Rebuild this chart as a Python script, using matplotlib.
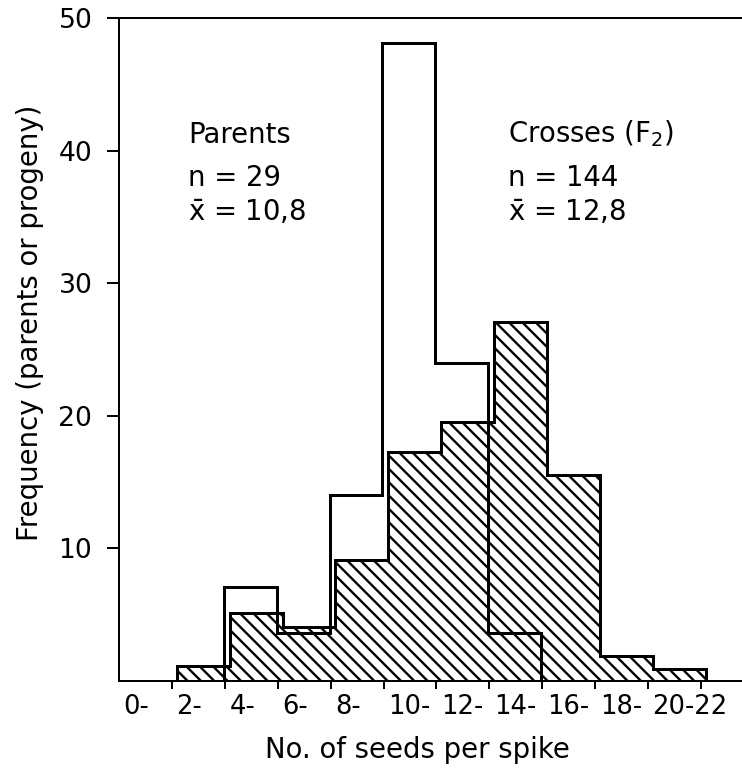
import numpy as np
import matplotlib.pyplot as plt

plt.rcParams['font.family'] = ['DejaVu Sans']
plt.rcParams['mathtext.fontset'] = 'dejavusans'
plt.rcParams['hatch.linewidth'] = 1.4

# percentage frequencies per class of seeds per spike
parent_edges = [4, 6, 8, 10, 12, 14, 16]
parent_freq = [7.1, 3.6, 14.0, 48.1, 24.0, 3.6]

cross_edges = [2, 4, 6, 8, 10, 12, 14, 16, 18, 20, 22]
cross_freq = [1.1, 5.1, 4.1, 9.1, 17.3, 19.5, 27.1, 15.5, 1.9, 0.9]

class_starts = [0, 2, 4, 6, 8, 10, 12, 14, 16, 18, 20]
class_labels = ['0-', '2-', '4-', '6-', '8-', '10-', '12-', '14-', '16-',
                '18-', '20-22']
yticks = [10, 20, 30, 40, 50]

fig = plt.figure(figsize=(742 / 120, 768 / 120), dpi=120)
ax = fig.add_axes([0.1604, 0.1133, 0.8396, 0.8633])

# crosses: hatched, drawn a little to the right as in the original
ax.stairs(cross_freq, np.array(cross_edges) + 0.18, baseline=0, fill=True,
          facecolor='white', edgecolor='black', linewidth=1.8,
          hatch='\\\\\\', zorder=2)
# parents: open outline on top
ax.stairs(parent_freq, np.array(parent_edges) - 0.04, baseline=0,
          fill=False, color='black', linewidth=1.8, zorder=3)

ax.set_xlim(0, 23.55)
ax.set_ylim(0, 50)
ax.spines['right'].set_visible(False)
for side in ['left', 'top', 'bottom']:
    ax.spines[side].set_linewidth(1.2)

ax.set_yticks(yticks)
ax.tick_params(axis='y', length=7, width=1.2, pad=9, labelsize=16)
ax.set_xticks(class_starts[1:] + [22])
ax.set_xticks(np.array(class_starts) + 0.17, class_labels, minor=True)
ax.tick_params(axis='x', which='major', length=4.5, width=1.2,
               labelbottom=False)
ax.tick_params(axis='x', which='minor', length=0, pad=8, labelsize=15.5)
for lab in ax.get_xticklabels(minor=True):
    lab.set_horizontalalignment('left')

ax.text(11.29, -5.8, 'No. of seeds per spike', ha='center', va='baseline',
        fontsize=16.5, clip_on=False)
ax.text(-3.35, 27, 'Frequency (parents or progeny)', rotation=90,
        ha='center', va='center', fontsize=16.5, clip_on=False)

tx = {'ha': 'left', 'va': 'baseline', 'fontsize': 16.5}
ax.text(2.6, 40.6, 'Parents', **tx)
ax.text(2.6, 37.35, 'n = 29', **tx)
ax.text(2.6, 34.7, r'$\bar{\mathrm{x}}$ = 10,8', **tx)
ax.text(14.7, 40.6, r'Crosses (F$_2$)', **tx)
ax.text(14.7, 37.35, 'n = 144', **tx)
ax.text(14.7, 34.7, r'$\bar{\mathrm{x}}$ = 12,8', **tx)

fig.savefig('out.png', dpi=120)
